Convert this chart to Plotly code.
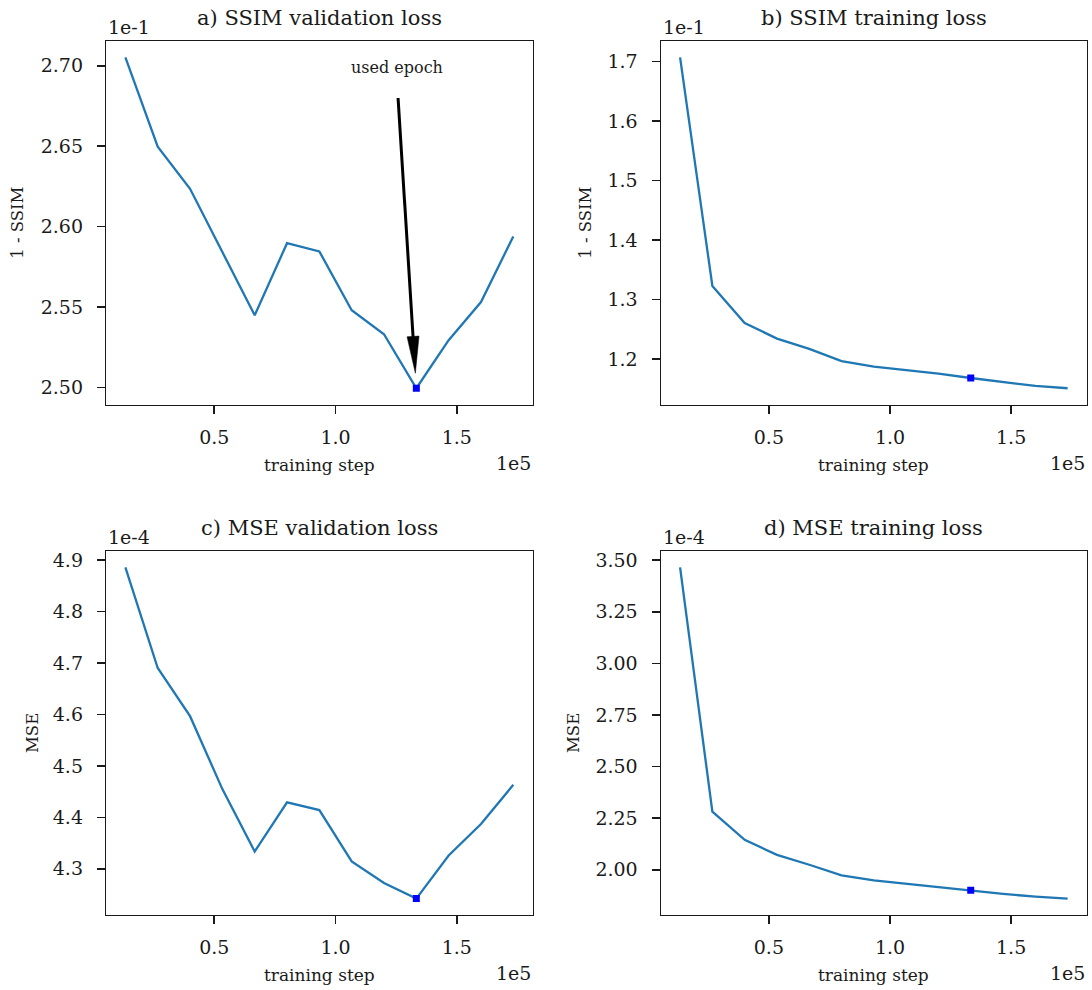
import numpy as np
import plotly.graph_objects as go

# ---------------- data ----------------
steps = [13333, 26667, 40000, 53333, 66667, 80000, 93333, 106667, 120000, 133333, 146667, 160000, 173333]
ssim_val = [0.27052, 0.26497, 0.26235, 0.25842, 0.25449, 0.25897, 0.25846, 0.25480, 0.25331, 0.24995, 0.25294, 0.25531, 0.25939]
ssim_train = [0.17067, 0.13230, 0.12607, 0.12345, 0.12173, 0.11967, 0.11873, 0.11816, 0.11756, 0.11683, 0.11617, 0.11550, 0.11511]
mse_val = [4.8859e-4, 4.6904e-4, 4.5967e-4, 4.4549e-4, 4.3335e-4, 4.4291e-4, 4.4142e-4, 4.3142e-4, 4.2724e-4, 4.2420e-4, 4.3258e-4, 4.3871e-4, 4.4632e-4]
mse_train = [3.4648e-4, 2.2810e-4, 2.1445e-4, 2.0721e-4, 2.0239e-4, 1.9723e-4, 1.9482e-4, 1.9322e-4, 1.9129e-4, 1.9000e-4, 1.8826e-4, 1.8696e-4, 1.8600e-4]
used_index = 9

titles = ["a) SSIM validation loss", "b) SSIM training loss", "c) MSE validation loss", "d) MSE training loss"]
ylabels = ["1 - SSIM", "1 - SSIM", "MSE", "MSE"]
y_scales = [1e-1, 1e-1, 1e-4, 1e-4]
y_offset_texts = ["1e-1", "1e-1", "1e-4", "1e-4"]
y_dticks = [0.05, 0.1, 0.1, 0.25]
y_formats = [".2f", ".1f", ".1f", ".2f"]
x_scale = 1e5
x_offset_text = "1e5"
x_tickvals = [0.5, 1.0, 1.5]
xlabel = "training step"
annotation_text = "used epoch"

series = [ssim_val, ssim_train, mse_val, mse_train]

# ---------------- layout geometry ----------------
W, H = 1092, 990
FONT = "DejaVu Serif"
INK = "#1a1a1a"
LINE_BLUE = "#1f77b4"

col_px = [(106.0, 532.7), (660.7, 1087.0)]
row_px = [(39.0, 403.6), (550.0, 915.0)]
ylabel_x_px = [18, 586, 32, 573]

fig = go.Figure()

panel_ranges = []
for i, vals in enumerate(series):
    r, c = divmod(i, 2)
    ax_id = "" if i == 0 else str(i + 1)
    xs = np.array(steps) / x_scale
    ys = np.array(vals) / y_scales[i]
    xspan = xs.max() - xs.min()
    yspan = ys.max() - ys.min()
    xr = [xs.min() - 0.05 * xspan, xs.max() + 0.05 * xspan]
    yr = [ys.min() - 0.05 * yspan, ys.max() + 0.05 * yspan]
    panel_ranges.append((xr, yr))

    fig.add_trace(go.Scatter(x=xs, y=ys, mode="lines",
                             line=dict(color=LINE_BLUE, width=2.3),
                             xaxis="x" + ax_id, yaxis="y" + ax_id, showlegend=False,
                             hoverinfo="skip"))
    fig.add_trace(go.Scatter(x=[xs[used_index]], y=[ys[used_index]], mode="markers",
                             marker=dict(symbol="square", color="#0000ff", size=7,
                                         line=dict(width=0)),
                             xaxis="x" + ax_id, yaxis="y" + ax_id, showlegend=False,
                             hoverinfo="skip"))

    x0p, x1p = col_px[c]
    t_p, b_p = row_px[r]
    xdom = [x0p / W, x1p / W]
    ydom = [1 - b_p / H, 1 - t_p / H]
    axis_common = dict(showline=True, mirror=True, linecolor=INK, linewidth=1.2,
                       ticks="outside", ticklen=8, tickwidth=1.6, tickcolor=INK,
                       showgrid=False, zeroline=False,
                       tickfont=dict(family=FONT, size=19, color=INK))
    fig.layout["xaxis" + ax_id] = dict(domain=xdom, range=xr, tickvals=x_tickvals,
                                       tickformat=".1f", anchor="y" + ax_id,
                                       ticklabelstandoff=7, **axis_common)
    fig.layout["yaxis" + ax_id] = dict(domain=ydom, range=yr, dtick=y_dticks[i], tick0=0,
                                       tickformat=y_formats[i], anchor="x" + ax_id,
                                       ticklabelstandoff=10, **axis_common)

    cx = (x0p + x1p) / 2
    texts = [
        (titles[i], cx / W, 1 - (t_p - 22.7) / H, "center", "middle", 21, 0),
        (y_offset_texts[i], x0p / W, 1 - (t_p - 13.7) / H, "left", "middle", 19, 0),
        (xlabel, cx / W, 1 - (b_p + 60) / H, "center", "middle", 17, 0),
        (x_offset_text, x1p / W, 1 - (b_p + 58) / H, "right", "middle", 19, 0),
        (ylabels[i], ylabel_x_px[i] / W, 1 - ((t_p + b_p) / 2) / H, "center", "middle", 16.5, -90),
    ]
    for txt, px, py, xa, ya, fs, ang in texts:
        fig.add_annotation(text=txt, x=px, y=py, xref="paper", yref="paper",
                           xanchor=xa, yanchor=ya, showarrow=False, textangle=ang,
                           font=dict(family=FONT, size=fs, color=INK))

# ---------------- "used epoch" annotation on panel a ----------------
xr, yr = panel_ranges[0]
pw = col_px[0][1] - col_px[0][0]
ph = row_px[0][1] - row_px[0][0]


def to_px(x, y):
    return np.array([(x - xr[0]) / (xr[1] - xr[0]) * pw, (y - yr[0]) / (yr[1] - yr[0]) * ph])


def from_px(p):
    return (xr[0] + p[0] / pw * (xr[1] - xr[0]), yr[0] + p[1] / ph * (yr[1] - yr[0]))


used_x = steps[used_index] / x_scale
used_y = ssim_val[used_index] / y_scales[0]
text_pos = (1.254, 2.699)
tail = to_px(1.258, 2.680)
tip = to_px(used_x - 0.004, used_y) + np.array([0, 15])
d = (tip - tail) / np.linalg.norm(tip - tail)
perp = np.array([-d[1], d[0]])
head_len, head_w = 37, 12
base = tip - d * head_len
b1 = base + perp * head_w / 2
b2 = base - perp * head_w / 2

tx, ty = from_px(tail)
bx, by = from_px(base + d * 2)
fig.add_shape(type="line", x0=tx, y0=ty, x1=bx, y1=by, xref="x", yref="y",
              line=dict(color="black", width=3))
P = [from_px(tip), from_px(b1), from_px(b2)]
path = "M {:.6f},{:.6f} L {:.6f},{:.6f} L {:.6f},{:.6f} Z".format(P[0][0], P[0][1], P[1][0], P[1][1], P[2][0], P[2][1])
fig.add_shape(type="path", path=path, xref="x", yref="y", fillcolor="black",
              line=dict(color="black", width=0.5))
fig.add_annotation(text=annotation_text, x=text_pos[0], y=text_pos[1], xref="x", yref="y",
                   showarrow=False, xanchor="center", yanchor="middle",
                   font=dict(family=FONT, size=16, color=INK))

fig.update_layout(width=W, height=H, margin=dict(l=0, r=0, t=0, b=0),
                  paper_bgcolor="white", plot_bgcolor="white",
                  font=dict(family=FONT, color=INK), showlegend=False)

fig.write_html("out.html", config={"displayModeBar": False, "staticPlot": True},
               post_script="document.body.style.margin='0px';document.body.style.overflow='hidden';")
